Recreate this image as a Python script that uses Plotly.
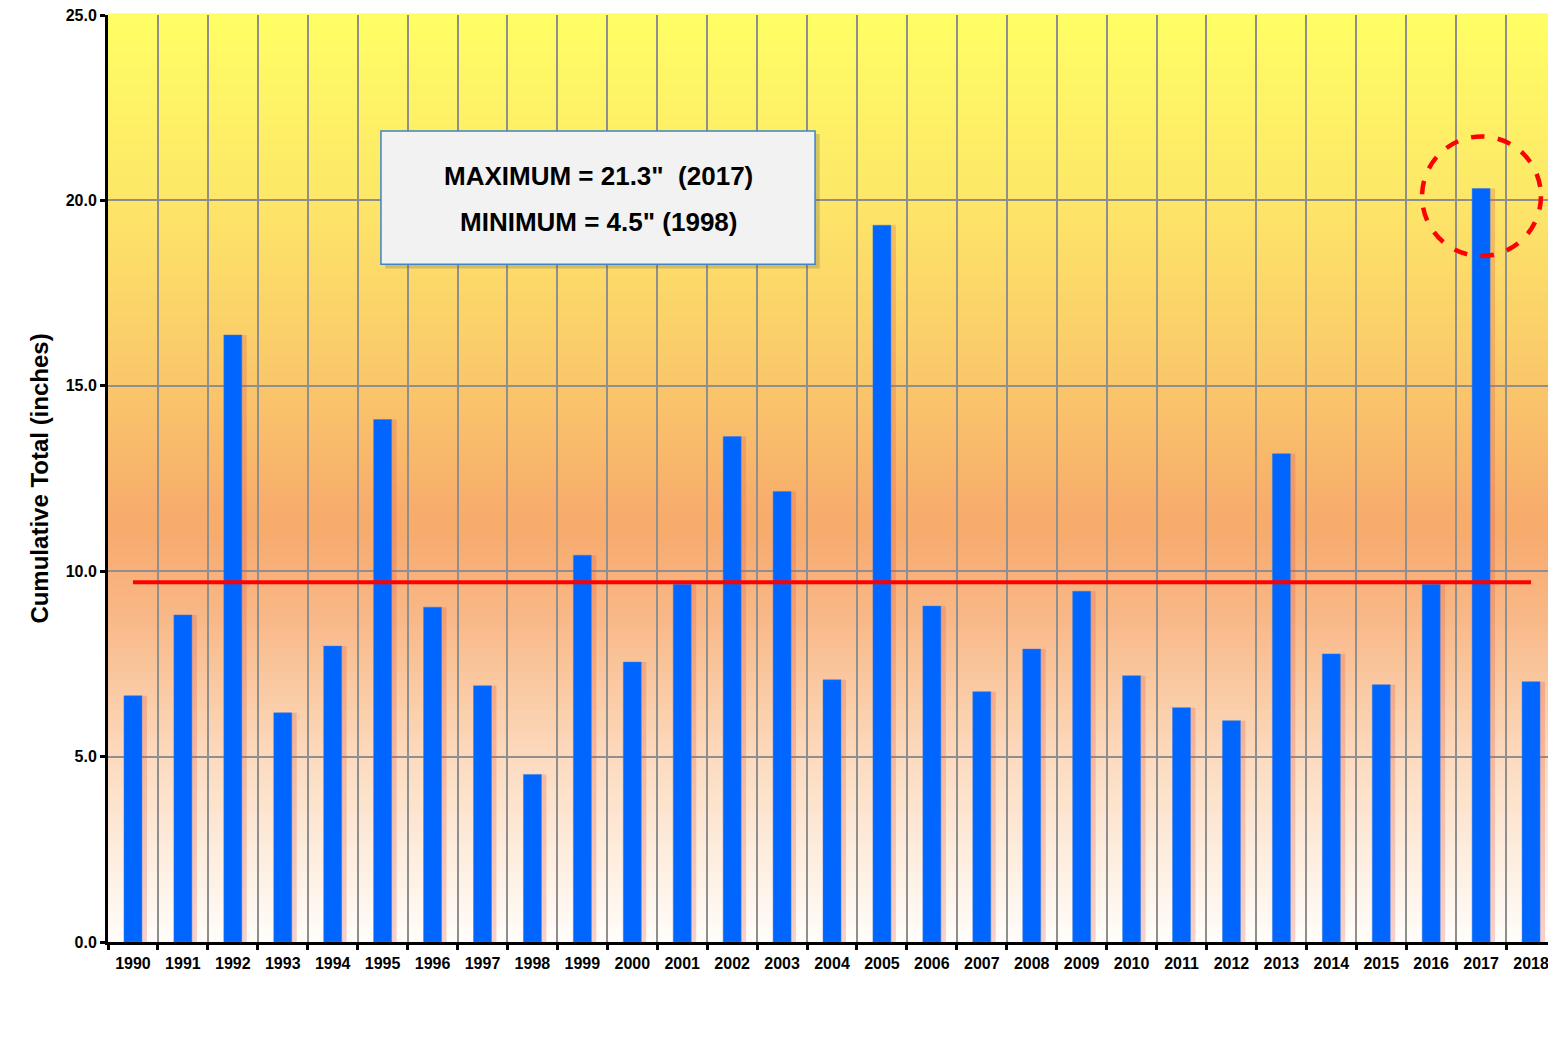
import plotly.graph_objects as go

# Yearly cumulative totals (inches)
years = [str(y) for y in range(1990, 2019)]
totals = [6.64, 8.82, 16.37, 6.18, 7.98, 14.09, 9.03, 6.91, 4.52, 10.43,
          7.55, 9.65, 13.63, 12.15, 7.07, 19.33, 9.06, 6.75, 7.90, 9.46,
          7.18, 6.32, 5.97, 13.17, 7.77, 6.94, 9.65, 20.32, 7.02]
average = 9.70
y_ticks = [0, 5, 10, 15, 20, 25]
y_tick_text = ["0.0", "5.0", "10.0", "15.0", "20.0", "25.0"]
box_lines = ['MAXIMUM = 21.3"&nbsp;&nbsp;(2017)', 'MINIMUM = 4.5" (1998)']

FONT = "Liberation Sans, Arial, sans-serif"

fig = go.Figure()

# soft reddish shadow behind each bar
fig.add_trace(go.Bar(
    x=years, y=totals, width=0.36, offset=-0.08,
    marker=dict(color="rgba(225,95,75,0.28)", line=dict(width=0)),
    hoverinfo="skip", showlegend=False
))
fig.add_trace(go.Bar(
    x=years, y=totals, width=0.36, offset=-0.18,
    marker=dict(color="#0066FF", line=dict(color="#3d7fe0", width=0.5)),
    name="Total", showlegend=False
))
fig.add_trace(go.Scatter(
    x=[years[0], years[-1]], y=[average, average], mode="lines",
    line=dict(color="#FF0000", width=4), showlegend=False
))

# vertical gradient background made of thin bands
stops = [(0.0, (255, 253, 250)), (0.2, (252, 218, 190)), (0.36, (248, 182, 132)),
         (0.45, (247, 170, 108)), (0.6, (250, 198, 106)), (0.8, (253, 230, 104)),
         (1.0, (255, 255, 100))]


def grad(t):
    for (a, ca), (b, cb) in zip(stops[:-1], stops[1:]):
        if a <= t <= b:
            f = (t - a) / (b - a)
            return "rgb(%d,%d,%d)" % tuple(round(ca[k] + (cb[k] - ca[k]) * f) for k in range(3))
    return "rgb(255,255,100)"


shapes = []
n = 120
for i in range(n):
    shapes.append(dict(type="rect", xref="paper", yref="paper", x0=0, x1=1,
                       y0=i / n, y1=(i + 1) / n + 0.002, layer="below",
                       fillcolor=grad((i + 0.5) / n), line=dict(width=0)))

# info box with shadow
shapes.append(dict(type="rect", xref="paper", yref="paper",
                   x0=0.1915, x1=0.4915, y0=0.7265, y1=0.8715,
                   fillcolor="rgba(90,90,60,0.25)", line=dict(width=0)))
shapes.append(dict(type="rect", xref="paper", yref="paper",
                   x0=0.1885, x1=0.4883, y0=0.7310, y1=0.8750,
                   fillcolor="#F2F2F2", line=dict(color="#3d85c6", width=1.5)))
# dashed circle around the maximum
shapes.append(dict(type="circle", xref="paper", yref="paper",
                   x0=0.9075, x1=0.9896, y0=0.7400, y1=0.8690,
                   line=dict(color="#FF0000", width=4.5, dash="dash")))

annotations = [
    dict(xref="paper", yref="paper", x=0.3384, y=0.8259, text=box_lines[0],
         xanchor="center", yanchor="middle", showarrow=False,
         font=dict(family=FONT, size=26, color="black", weight="bold")),
    dict(xref="paper", yref="paper", x=0.3384, y=0.7762, text=box_lines[1],
         xanchor="center", yanchor="middle", showarrow=False,
         font=dict(family=FONT, size=26, color="black", weight="bold")),
]

fig.update_layout(
    width=1548, height=1034,
    margin=dict(l=100, r=0, t=7, b=100),
    paper_bgcolor="white", plot_bgcolor="white",
    barmode="overlay",
    shapes=shapes, annotations=annotations,
    font=dict(family=FONT, color="black"),
    xaxis=dict(
        type="category", range=[-0.5, 28.5], tickson="boundaries",
        showgrid=True, gridcolor="#8f8f8f", gridwidth=1.5,
        showline=True, linecolor="black", linewidth=3,
        ticks="outside", ticklen=5, tickwidth=3, tickcolor="black",
        ticklabelstandoff=5,
        tickfont=dict(family=FONT, size=16, weight="bold"),
    ),
    yaxis=dict(
        range=[0, 25], tickvals=y_ticks, ticktext=y_tick_text,
        showgrid=True, gridcolor="#8f8f8f", gridwidth=1.5, zeroline=False,
        showline=True, linecolor="black", linewidth=3,
        ticks="outside", ticklen=5, tickwidth=3, tickcolor="black",
        ticklabeloverflow="allow", automargin="left",
        tickfont=dict(family=FONT, size=16, weight="bold"),
        title=dict(text="Cumulative Total (inches)", standoff=11,
                   font=dict(family=FONT, size=24, weight="bold")),
    ),
)

fig.write_html("out.html")
